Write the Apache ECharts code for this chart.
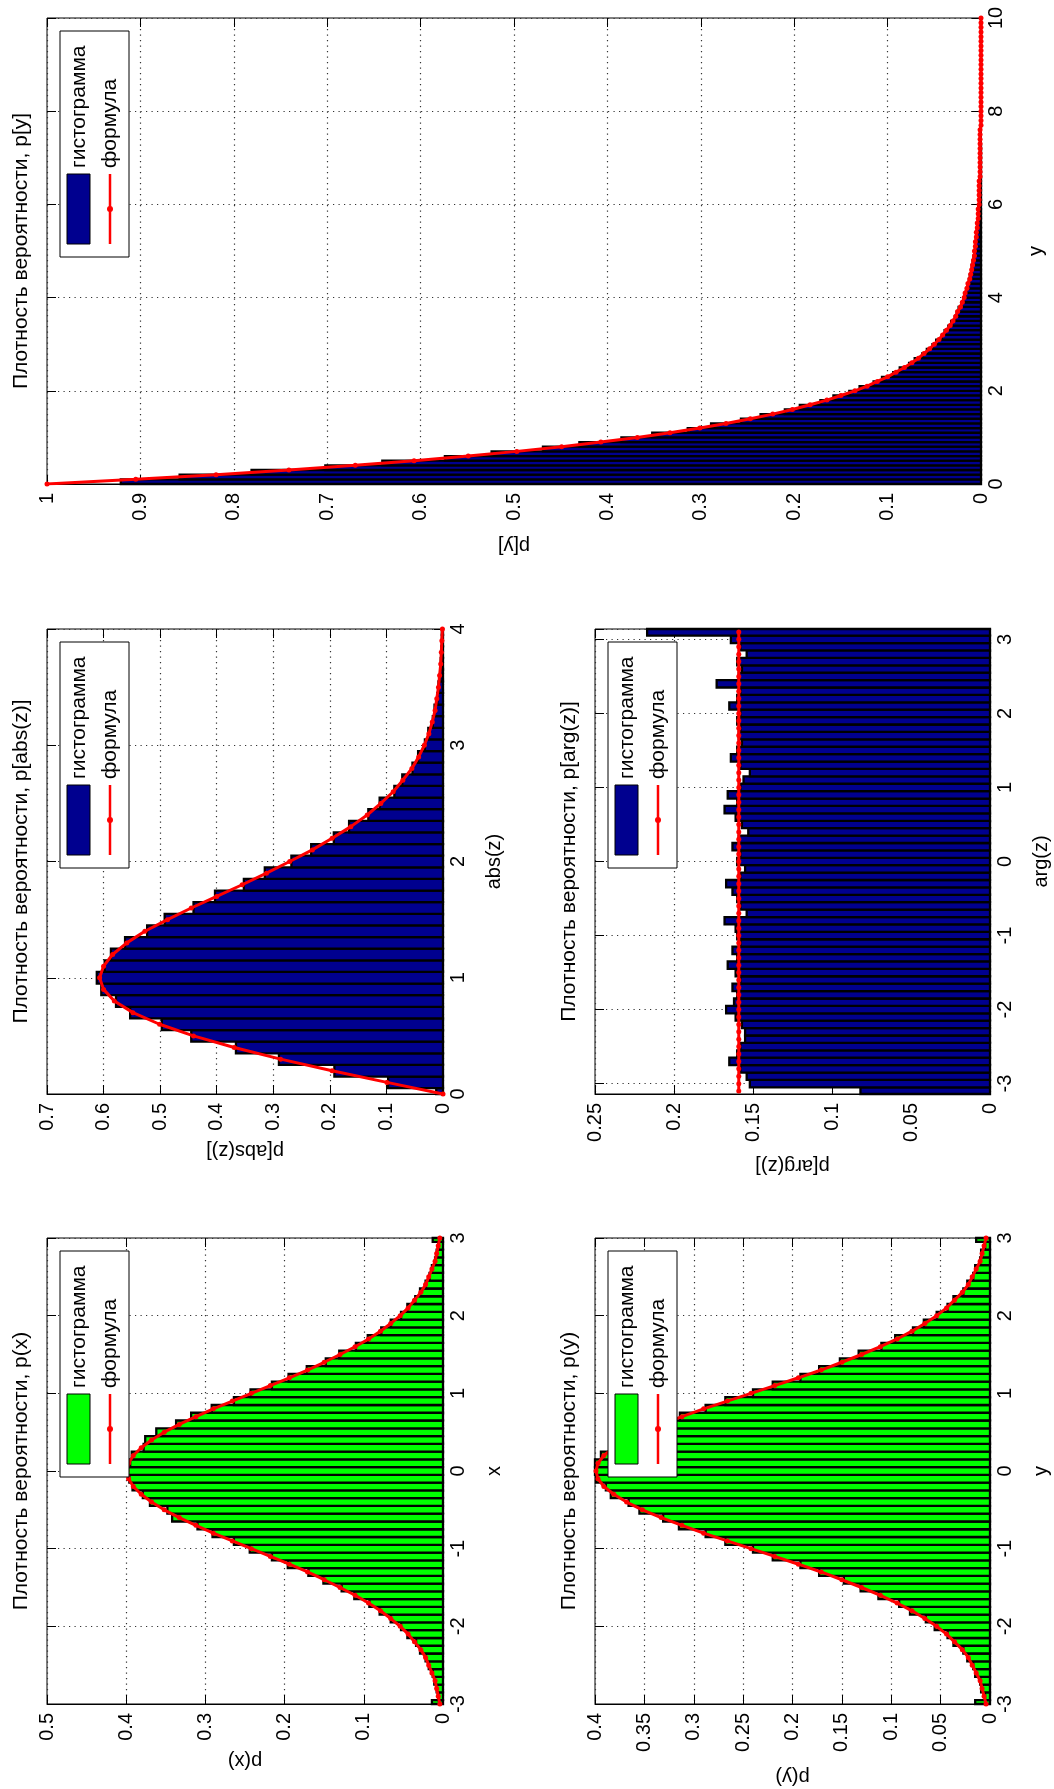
<!DOCTYPE html>
<html>
<head>
<meta charset="utf-8">
<title>Плотность вероятности</title>
<script src="https://cdn.jsdelivr.net/npm/echarts@6/dist/echarts.min.js"></script>
<style>
  html, body { margin: 0; padding: 0; background: #fff; }
  #chart { width: 1054px; height: 1789px; }
</style>
</head>
<body>
<div id="chart"></div>
<script>
// шаг гистограмм и начало бинов (центры)
const binStep = 0.1;
const gaussStart = -3;
const absStart = 0;
const argStart = -3.1;
const expHistStart = 0.05;
const expCurveStart = 0;

// p(x), p(y): формула (значения в центрах -3 : 0.1 : 3)
const gaussCurve = [
  0.004, 0.006, 0.008, 0.010, 0.014, 0.018, 0.022, 0.028, 0.036, 0.044,
  0.054, 0.066, 0.079, 0.094, 0.111, 0.130, 0.150, 0.171, 0.194, 0.218,
  0.242, 0.266, 0.290, 0.312, 0.333, 0.352, 0.368, 0.381, 0.391, 0.397,
  0.399,
  0.397, 0.391, 0.381, 0.368, 0.352, 0.333, 0.312, 0.290, 0.266, 0.242,
  0.218, 0.194, 0.171, 0.150, 0.130, 0.111, 0.094, 0.079, 0.066, 0.054,
  0.044, 0.036, 0.028, 0.022, 0.018, 0.014, 0.010, 0.008, 0.006, 0.004
];
// p(x): гистограмма
const pxHist = [
  0.014, 0.006, 0.008, 0.011, 0.013, 0.018, 0.022, 0.029, 0.034, 0.045,
  0.053, 0.066, 0.080, 0.093, 0.112, 0.128, 0.151, 0.170, 0.196, 0.216,
  0.244, 0.264, 0.291, 0.310, 0.342, 0.348, 0.370, 0.379, 0.392, 0.396,
  0.401,
  0.395, 0.393, 0.378, 0.376, 0.362, 0.337, 0.318, 0.292, 0.264, 0.243,
  0.216, 0.195, 0.172, 0.148, 0.131, 0.110, 0.095, 0.078, 0.066, 0.053,
  0.045, 0.035, 0.029, 0.022, 0.017, 0.014, 0.010, 0.008, 0.006, 0.013
];
// p(y): гистограмма
const pyHist = [
  0.015, 0.005, 0.009, 0.010, 0.015, 0.017, 0.023, 0.027, 0.037, 0.043,
  0.056, 0.065, 0.081, 0.092, 0.113, 0.131, 0.148, 0.173, 0.192, 0.220,
  0.240, 0.268, 0.288, 0.315, 0.331, 0.355, 0.366, 0.384, 0.389, 0.399,
  0.402,
  0.400, 0.394, 0.383, 0.365, 0.354, 0.330, 0.314, 0.288, 0.268, 0.240,
  0.220, 0.192, 0.173, 0.152, 0.133, 0.110, 0.096, 0.078, 0.067, 0.054,
  0.043, 0.037, 0.027, 0.023, 0.017, 0.015, 0.010, 0.009, 0.005, 0.014
];

// p[abs(z)]: центры 0 : 0.1 : 4
const absCurve = [
  0.000, 0.099, 0.196, 0.287, 0.369, 0.441, 0.501, 0.548, 0.581, 0.600,
  0.607, 0.600, 0.584, 0.559, 0.527, 0.487, 0.445, 0.400, 0.355, 0.312,
  0.271, 0.231, 0.196, 0.163, 0.134, 0.110, 0.088, 0.071, 0.055, 0.043,
  0.033, 0.025, 0.019, 0.014, 0.011, 0.008, 0.006, 0.004, 0.003, 0.002,
  0.001
];
const absHist = [
  0.012, 0.097, 0.192, 0.290, 0.366, 0.445, 0.497, 0.553, 0.578, 0.604,
  0.612, 0.598, 0.587, 0.562, 0.523, 0.492, 0.441, 0.403, 0.352, 0.315,
  0.268, 0.233, 0.193, 0.166, 0.132, 0.112, 0.086, 0.072, 0.054, 0.044,
  0.032, 0.026, 0.018, 0.015, 0.010, 0.008, 0.005, 0.004, 0.003, 0.002,
  0.002
];

// p[arg(z)]: центры -3.1 : 0.1 : 3.1
const argCurve = [
  0.159, 0.159, 0.159, 0.159, 0.159, 0.159, 0.159, 0.159, 0.159,
  0.159, 0.159, 0.159, 0.159, 0.159, 0.159, 0.159, 0.159, 0.159,
  0.159, 0.159, 0.159, 0.159, 0.159, 0.159, 0.159, 0.159, 0.159,
  0.159, 0.159, 0.159, 0.159, 0.159, 0.159, 0.159, 0.159, 0.159,
  0.159, 0.159, 0.159, 0.159, 0.159, 0.159, 0.159, 0.159, 0.159,
  0.159, 0.159, 0.159, 0.159, 0.159, 0.159, 0.159, 0.159, 0.159,
  0.159, 0.159, 0.159, 0.159, 0.159, 0.159, 0.159, 0.159, 0.159
];
const argHist = [
  0.082, 0.152, 0.154, 0.158, 0.165, 0.160, 0.158, 0.155, 0.155,
  0.157, 0.161, 0.167, 0.162, 0.160, 0.163, 0.158, 0.161, 0.166,
  0.160, 0.163, 0.158, 0.160, 0.161, 0.168, 0.154, 0.158, 0.160,
  0.163, 0.167, 0.158, 0.155, 0.160, 0.158, 0.163, 0.159, 0.153,
  0.157, 0.161, 0.168, 0.160, 0.166, 0.158, 0.156, 0.152, 0.158,
  0.164, 0.160, 0.157, 0.159, 0.158, 0.160, 0.158, 0.165, 0.160,
  0.158, 0.173, 0.159, 0.157, 0.160, 0.154, 0.158, 0.164, 0.217
];

// p[y]: формула в точках 0 : 0.1 : 10, гистограмма в центрах 0.05 : 0.1 : 9.95
const expCurve = [
  1.000, 0.905, 0.819, 0.741, 0.670, 0.607, 0.549, 0.497, 0.449, 0.407,
  0.368, 0.333, 0.301, 0.273, 0.247, 0.223, 0.202, 0.183, 0.165, 0.150,
  0.135, 0.122, 0.111, 0.100, 0.091, 0.082, 0.074, 0.067, 0.061, 0.055,
  0.050, 0.045, 0.041, 0.037, 0.033, 0.030, 0.027, 0.025, 0.022, 0.020,
  0.018, 0.017, 0.015, 0.014, 0.012, 0.011, 0.010, 0.009, 0.008, 0.007,
  0.007, 0.006, 0.006, 0.005, 0.005, 0.004, 0.004, 0.003, 0.003, 0.003,
  0.002, 0.002, 0.002, 0.002, 0.002, 0.002, 0.001, 0.001, 0.001, 0.001,
  0.001, 0.001, 0.001, 0.001, 0.001, 0.001, 0.001, 0.000, 0.000, 0.000,
  0.000, 0.000, 0.000, 0.000, 0.000, 0.000, 0.000, 0.000, 0.000, 0.000,
  0.000, 0.000, 0.000, 0.000, 0.000, 0.000, 0.000, 0.000, 0.000, 0.000,
  0.000
];
const expHist = [
  0.921, 0.858, 0.781, 0.702, 0.641, 0.574, 0.524, 0.469, 0.430, 0.385,
  0.352, 0.314, 0.289, 0.257, 0.236, 0.210, 0.194, 0.172, 0.158, 0.141,
  0.130, 0.115, 0.106, 0.094, 0.087, 0.077, 0.071, 0.063, 0.058, 0.052,
  0.048, 0.042, 0.039, 0.035, 0.032, 0.028, 0.026, 0.024, 0.021, 0.019,
  0.017, 0.016, 0.014, 0.013, 0.012, 0.010, 0.010, 0.009, 0.008, 0.007,
  0.006, 0.006, 0.005, 0.005, 0.004, 0.004, 0.003, 0.003, 0.003, 0.003,
  0.002, 0.002, 0.002, 0.002, 0.001, 0.001, 0.001, 0.001, 0.001, 0.001,
  0.001, 0.001, 0.001, 0.000, 0.000, 0.000, 0.000, 0.000, 0.000, 0.000,
  0.000, 0.000, 0.000, 0.000, 0.000, 0.000, 0.000, 0.000, 0.000, 0.000,
  0.000, 0.000, 0.000, 0.000, 0.000, 0.000, 0.000, 0.000, 0.000, 0.000
];

const font = '"Liberation Sans", Arial, sans-serif';
const blue = '#00008f';
const green = '#00ff00';
const gridLine = { color: '#333', width: 1.2, type: [1.2, 4.3] };

// rect: [left, top, width, height] в пикселях
const panels = [
  { title: 'Плотность вероятности, p[y]', rect: [47, 18, 943, 466],
    dens: [0, 1, 0.1], vari: [0, 10, 2], densName: 'p[y]', varName: 'y',
    densGap: 52, varGap: 45, color: blue,
    hist: expHist, histStart: expHistStart, curve: expCurve, curveStart: expCurveStart },
  { title: 'Плотность вероятности, p[abs(z)]', rect: [47, 629, 396, 465],
    dens: [0, 0.7, 0.1], vari: [0, 4, 1], densName: 'p[abs(z)]', varName: 'abs(z)',
    densGap: 47, varGap: 41, color: blue,
    hist: absHist, histStart: absStart, curve: absCurve, curveStart: absStart },
  { title: 'Плотность вероятности, p[arg(z)]', rect: [595, 629, 395, 465],
    dens: [0, 0.25, 0.05], vari: [-3.14, 3.14, null], densName: 'p[arg(z)]', varName: 'arg(z)',
    densGap: 62, varGap: 41, color: blue,
    hist: argHist, histStart: argStart, curve: argCurve, curveStart: argStart },
  { title: 'Плотность вероятности, p(x)', rect: [47, 1238, 396, 466],
    dens: [0, 0.5, 0.1], vari: [-3, 3, 1], densName: 'p(x)', varName: 'x',
    densGap: 47, varGap: 41, color: green,
    hist: pxHist, histStart: gaussStart, curve: gaussCurve, curveStart: gaussStart },
  { title: 'Плотность вероятности, p(y)', rect: [595, 1238, 395, 466],
    dens: [0, 0.4, 0.05], vari: [-3, 3, 1], densName: 'p(y)', varName: 'y',
    densGap: 63, varGap: 41, color: green,
    hist: pyHist, histStart: gaussStart, curve: gaussCurve, curveStart: gaussStart }
];

// горизонтальный столбик гистограммы: x - плотность, y - центр бина
function histItem(color) {
  return function (params, api) {
    const c = api.value(0);
    const v = api.value(1);
    if (!(v > 0)) return null;
    const a = api.coord([0, c - binStep / 2]);
    const b = api.coord([v, c + binStep / 2]);
    const shape = echarts.graphic.clipRectByRect({
      x: Math.min(a[0], b[0]),
      y: Math.min(a[1], b[1]),
      width: Math.abs(b[0] - a[0]),
      height: Math.abs(b[1] - a[1])
    }, {
      x: params.coordSys.x,
      y: params.coordSys.y,
      width: params.coordSys.width,
      height: params.coordSys.height
    });
    if (!shape) return null;
    return {
      type: 'rect',
      shape: shape,
      style: { fill: color, stroke: '#000', lineWidth: 2.3 }
    };
  };
}

// легенда, повёрнутая на 90 градусов
function legendGroup(left, top, color) {
  const W = 226, H = 69;
  const txt = { font: '21px ' + font, fill: '#000', textAlign: 'left', textVerticalAlign: 'middle' };
  return {
    type: 'group',
    x: left,
    y: top + W,
    rotation: Math.PI / 2,
    children: [
      { type: 'rect', z: 100, shape: { x: 0, y: 0, width: W, height: H },
        style: { fill: '#fff', stroke: '#000', lineWidth: 1 } },
      { type: 'rect', z: 101, shape: { x: 13, y: 7, width: 70, height: 23 },
        style: { fill: color, stroke: '#000', lineWidth: 1 } },
      { type: 'text', z: 101, x: 89, y: 19, style: Object.assign({ text: 'гистограмма' }, txt) },
      { type: 'line', z: 101, shape: { x1: 13, y1: 50, x2: 83, y2: 50 },
        style: { stroke: '#f00', lineWidth: 2.5 } },
      { type: 'circle', z: 102, shape: { cx: 48, cy: 50, r: 3 }, style: { fill: '#f00' } },
      { type: 'text', z: 101, x: 89, y: 50, style: Object.assign({ text: 'формула' }, txt) }
    ]
  };
}

const grids = [], xAxes = [], yAxes = [], series = [], graphics = [];

panels.forEach(function (p, i) {
  const r = p.rect;
  grids.push({
    left: r[0], top: r[1], width: r[2], height: r[3],
    show: true, borderColor: '#000', borderWidth: 1, backgroundColor: '#fff'
  });

  const tick = { inside: true, length: 9, lineStyle: { color: '#000', width: 1 } };
  const labelStyle = { fontSize: 20, fontFamily: font, color: '#000' };

  // плотность: внизу, 0 справа
  xAxes.push({
    gridIndex: i, type: 'value', position: 'bottom', inverse: true,
    min: p.dens[0], max: p.dens[1], interval: p.dens[2],
    name: p.densName, nameLocation: 'middle', nameRotate: 180, nameGap: p.densGap,
    nameTextStyle: labelStyle,
    axisLine: { onZero: false, lineStyle: { color: '#000' } },
    axisTick: tick,
    axisLabel: Object.assign({ rotate: 90, margin: 9 }, labelStyle),
    splitLine: { show: true, lineStyle: gridLine }
  });
  xAxes.push({
    gridIndex: i, type: 'value', position: 'top', inverse: true,
    min: p.dens[0], max: p.dens[1], interval: p.dens[2],
    axisLine: { show: false, onZero: false },
    axisTick: tick, axisLabel: { show: false }, splitLine: { show: false }
  });

  // переменная: справа, снизу вверх
  const vAxis = {
    gridIndex: i, type: 'value', position: 'right',
    min: p.vari[0], max: p.vari[1],
    name: p.varName, nameLocation: 'middle', nameRotate: 90, nameGap: p.varGap,
    nameTextStyle: labelStyle,
    axisLine: { onZero: false, lineStyle: { color: '#000' } },
    axisTick: tick,
    axisLabel: Object.assign({ rotate: 90, margin: 5 }, labelStyle),
    splitLine: { show: true, lineStyle: gridLine }
  };
  const vAxis2 = {
    gridIndex: i, type: 'value', position: 'left',
    min: p.vari[0], max: p.vari[1],
    axisLine: { show: false, onZero: false },
    axisTick: tick, axisLabel: { show: false }, splitLine: { show: false }
  };
  if (p.vari[2] != null) {
    vAxis.interval = p.vari[2];
    vAxis2.interval = p.vari[2];
  } else {
    vAxis.splitNumber = 6;
    vAxis2.splitNumber = 6;
    vAxis.axisLabel.showMinLabel = false;
    vAxis.axisLabel.showMaxLabel = false;
  }
  yAxes.push(vAxis, vAxis2);

  series.push({
    type: 'custom', xAxisIndex: 2 * i, yAxisIndex: 2 * i,
    renderItem: histItem(p.color),
    encode: { x: 1, y: 0 },
    data: p.hist.map(function (v, k) { return [p.histStart + k * binStep, v]; }),
    z: 2, silent: true
  });
  series.push({
    type: 'line', xAxisIndex: 2 * i, yAxisIndex: 2 * i,
    data: p.curve.map(function (v, k) { return [v, p.curveStart + k * binStep]; }),
    symbol: 'circle', symbolSize: 5, showSymbol: true,
    lineStyle: { color: '#f00', width: 3 },
    itemStyle: { color: '#f00' },
    z: 3, silent: true
  });

  // заголовок слева, читается снизу вверх
  graphics.push({
    type: 'text', z: 100,
    x: r[0] - 26, y: r[1] + r[3] / 2,
    rotation: Math.PI / 2,
    style: { text: p.title, font: '21px ' + font, fill: '#000', textAlign: 'center', textVerticalAlign: 'middle' }
  });
  graphics.push(legendGroup(r[0] + 13, r[1] + 13, p.color));
});

const chart = echarts.init(document.getElementById('chart'), null, { renderer: 'canvas' });
chart.setOption({
  animation: false,
  backgroundColor: '#fff',
  grid: grids,
  xAxis: xAxes,
  yAxis: yAxes,
  series: series,
  graphic: graphics
});
</script>
</body>
</html>
